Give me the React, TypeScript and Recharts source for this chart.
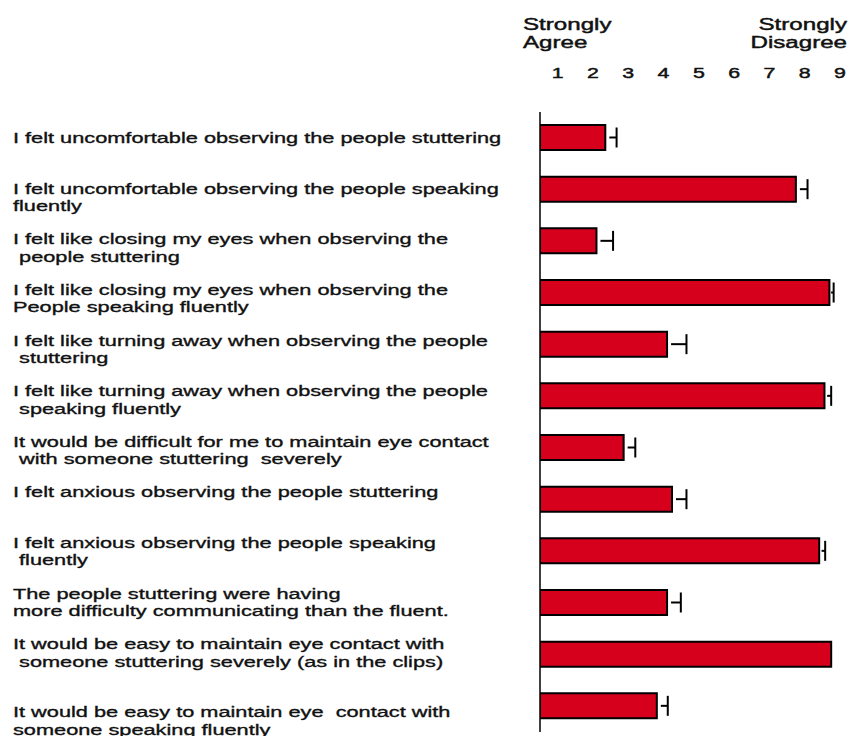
import React from 'react';
import { BarChart, Bar, XAxis, YAxis } from 'recharts';

// survey statements (\n = line break, leading space kept as in the source slide)
const ITEMS = [
  'I felt uncomfortable observing the people stuttering',
  'I felt uncomfortable observing the people speaking\nfluently',
  'I felt like closing my eyes when observing the\n people stuttering',
  'I felt like closing my eyes when observing the\nPeople speaking fluently',
  'I felt like turning away when observing the people\n stuttering',
  'I felt like turning away when observing the people\n speaking fluently',
  'It would be difficult for me to maintain eye contact\n with someone stuttering  severely',
  'I felt anxious observing the people stuttering',
  'I felt anxious observing the people speaking\n fluently',
  'The people stuttering were having\nmore difficulty communicating than the fluent.',
  'It would be easy to maintain eye contact with\n someone stuttering severely (as in the clips)',
  '\nIt would be easy to maintain eye  contact with\nsomeone speaking fluently',
];

// mean rating (1 = strongly agree, 9 = strongly disagree)
const MEANS = [2.35, 7.75, 2.1, 8.7, 4.1, 8.56, 2.87, 4.24, 8.41, 4.1, 8.75, 3.81];
// upper error (standard error)
const ERRORS = [0.32, 0.33, 0.47, 0.12, 0.55, 0.19, 0.33, 0.41, 0.17, 0.39, 0, 0.31];

const SCALE_TICKS = [1, 2, 3, 4, 5, 6, 7, 8, 9];

const rows = ITEMS.map((item, i) => ({ item, mean: MEANS[i], err: ERRORS[i] }));

const FONT = '"Liberation Sans", Arial, Helvetica, sans-serif';
const INK = '#111';
const STRETCH = 1.45;

const ItemTick = (props: any) => {
  const { y, payload } = props;
  const index = props.index ?? payload.index ?? 0;
  const lines = String(payload.value).split('\n');
  const top = y - index * 1.05;
  return (
    <g transform={`translate(13, ${top}) scale(${STRETCH}, 1)`}>
      <text
        fontFamily={FONT}
        fontSize={15}
        fill={INK}
        stroke={INK}
        strokeWidth={0.35}
        xmlSpace="preserve"
        style={{ whiteSpace: 'pre' }}
      >
        {lines.map((line, i) => (
          <tspan key={i} x={0} y={5.3 + i * 17.3}>
            {line}
          </tspan>
        ))}
      </text>
    </g>
  );
};

const ScaleTick = (props: any) => {
  const { x, payload } = props;
  return (
    <g transform={`translate(${x}, 78) scale(1.42, 1)`}>
      <text textAnchor="middle" fontFamily={FONT} fontSize={15} fill={INK} stroke={INK} strokeWidth={0.45}>
        {payload.value}
      </text>
    </g>
  );
};

const HeaderLabel = (props: any) => {
  const vb = props.viewBox || { x: 540, width: 300 };
  const left = vb.x - 17;
  const right = vb.x + vb.width + 7;
  const txt = (x: number, y: number, s: string, anchor: string) => (
    <g transform={`translate(${x}, ${y}) scale(1.42, 1)`}>
      <text textAnchor={anchor} fontFamily={FONT} fontSize={17} fill={INK} stroke={INK} strokeWidth={0.45}>
        {s}
      </text>
    </g>
  );
  return (
    <g>
      {txt(left, 30, 'Strongly', 'start')}
      {txt(left, 48, 'Agree', 'start')}
      {txt(right, 30, 'Strongly', 'end')}
      {txt(right, 48, 'Disagree', 'end')}
    </g>
  );
};

// horizontal whisker with a cap at the upper end only
const Whisker = (props: any) => {
  const { x, y, width, height } = props;
  if (!width || width <= 0) return <g />;
  const cy = y + height / 2;
  const x0 = x + Math.min(4, width * 0.4);
  const x1 = x + width;
  return (
    <g stroke="#000" strokeWidth={2}>
      <line x1={x0} y1={cy} x2={x1} y2={cy} />
      <line x1={x1} y1={cy - 10} x2={x1} y2={cy + 10} />
    </g>
  );
};

export default function App() {
  return (
    <div style={{ position: 'absolute', left: 0, top: 0, background: '#fff' }}>
      <BarChart
        width={851}
        height={736}
        data={rows}
        layout="vertical"
        margin={{ top: 0, right: 11, bottom: 4, left: 0 }}
      >
        <XAxis
          type="number"
          orientation="top"
          domain={[0.5, 9]}
          ticks={SCALE_TICKS}
          allowDataOverflow
          height={112}
          axisLine={false}
          tickLine={false}
          tick={<ScaleTick />}
          label={<HeaderLabel />}
        />
        <YAxis
          type="category"
          dataKey="item"
          width={540}
          interval={0}
          tickLine={false}
          axisLine={{ stroke: '#000', strokeWidth: 1.5 }}
          tick={<ItemTick />}
        />
        <Bar
          dataKey="mean"
          stackId="s"
          fill="#d6001c"
          stroke="#000"
          strokeWidth={2}
          barSize={25}
          isAnimationActive={false}
        />
        <Bar dataKey="err" stackId="s" shape={<Whisker />} barSize={25} isAnimationActive={false} />
      </BarChart>
    </div>
  );
}
